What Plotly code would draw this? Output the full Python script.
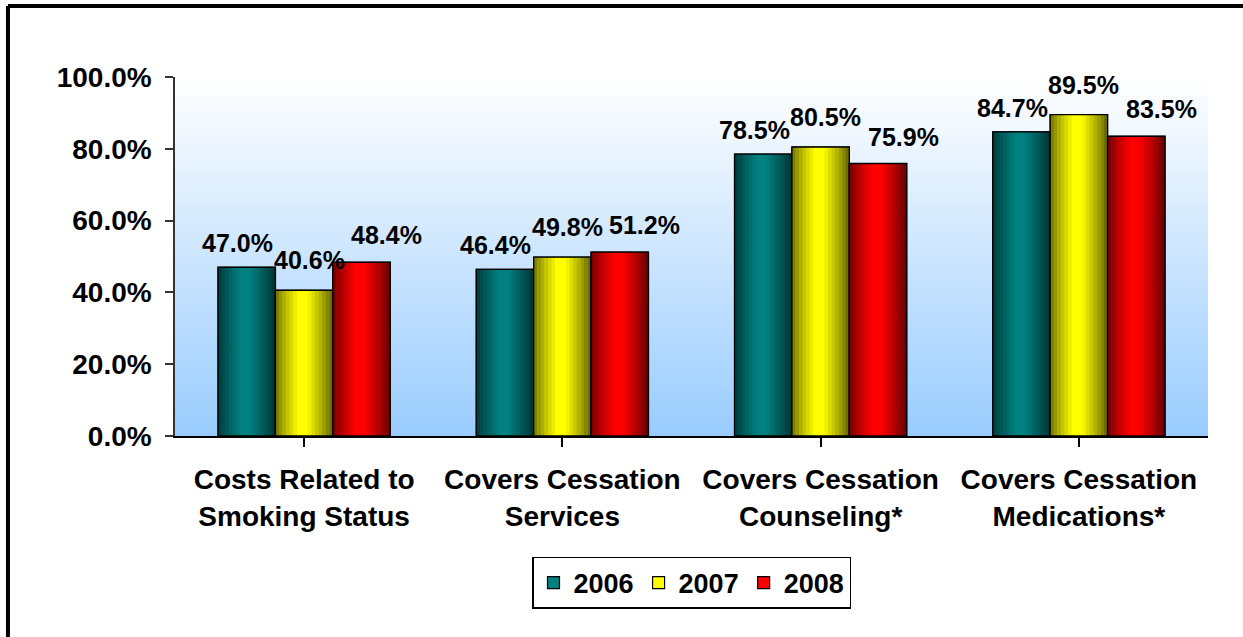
import plotly.graph_objects as go

# ---- data ----
categories = ["Costs Related to<br>Smoking Status", "Covers Cessation<br>Services",
              "Covers Cessation<br>Counseling*", "Covers Cessation<br>Medications*"]
years = ["2006", "2007", "2008"]
v2006 = [47.0, 46.4, 78.5, 84.7]
v2007 = [40.6, 49.8, 80.5, 89.5]
v2008 = [48.4, 51.2, 75.9, 83.5]
y_ticks = [0, 20, 40, 60, 80, 100]
y_tick_text = ["0.0%", "20.0%", "40.0%", "60.0%", "80.0%", "100.0%"]

series = [v2006, v2007, v2008]
base_colors = [(0, 128, 128), (255, 255, 0), (255, 0, 0)]
label_xshift = [-9, 5, 25]
label_yshift = [8, 14, 11]

FONT = "Liberation Sans, Arial, sans-serif"
BAR_W = 0.2222
OFFSETS = [-0.3333, -0.1111, 0.1111]
N_STRIPS = 16

# cylinder-like shading profile across a bar
prof = [(0.0, 0.45), (0.2, 0.75), (0.4, 1.0), (0.55, 1.0), (0.8, 0.68), (1.0, 0.38)]


def shade(t):
    for (t0, s0), (t1, s1) in zip(prof[:-1], prof[1:]):
        if t0 <= t <= t1:
            return s0 + (s1 - s0) * (t - t0) / (t1 - t0)
    return prof[-1][1]


def rgb(c, s=1.0):
    return "rgb(%d,%d,%d)" % tuple(int(round(v * s)) for v in c)


fig = go.Figure()
idx = list(range(len(categories)))

for si, vals in enumerate(series):
    # legend-carrying base bar (hidden under gradient strips)
    fig.add_trace(go.Bar(
        x=idx, y=vals, name=years[si], width=BAR_W, offset=OFFSETS[si],
        marker=dict(color=rgb(base_colors[si]), line=dict(color="black", width=1.2)),
        showlegend=True, hoverinfo="skip"))
    sw = BAR_W / N_STRIPS
    for k in range(N_STRIPS):
        t = (k + 0.5) / N_STRIPS
        fig.add_trace(go.Bar(
            x=idx, y=vals, width=sw * 1.08, offset=OFFSETS[si] + k * sw,
            marker=dict(color=rgb(base_colors[si], shade(t)), line=dict(width=0)),
            showlegend=False, hoverinfo="skip"))
    # outline on top
    fig.add_trace(go.Bar(
        x=idx, y=vals, width=BAR_W, offset=OFFSETS[si],
        marker=dict(color="rgba(0,0,0,0)", line=dict(color="black", width=1.3)),
        showlegend=False, hoverinfo="skip"))

# data labels
annotations = []
for si, vals in enumerate(series):
    for ci, v in enumerate(vals):
        annotations.append(dict(
            x=ci + OFFSETS[si] + BAR_W / 2, y=v, xref="x", yref="y",
            text="%.1f%%" % v, showarrow=False, yanchor="bottom",
            xshift=label_xshift[si], yshift=label_yshift[si],
            font=dict(family=FONT, size=25, color="black", weight="bold")))

# gradient background of plot area
shapes = []
n_bands = 60
top_c = (255, 255, 255)
bot_c = (153, 204, 255)
for b in range(n_bands):
    f = (b + 0.5) / n_bands
    c = tuple(top_c[i] + (bot_c[i] - top_c[i]) * f for i in range(3))
    shapes.append(dict(type="rect", xref="paper", yref="paper", x0=0, x1=1,
                       y0=1 - (b + 1) / n_bands - 0.002, y1=1 - b / n_bands,
                       fillcolor=rgb(c), line=dict(width=0), layer="below"))

# outer frame (top and left edges visible)
shapes.append(dict(type="line", xref="paper", yref="paper", x0=-0.1617, x1=1.1,
                   y0=1.1978, y1=1.1978, line=dict(color="black", width=4)))
shapes.append(dict(type="line", xref="paper", yref="paper", x0=-0.1617, x1=-0.1617,
                   y0=1.1978, y1=-0.6, line=dict(color="black", width=4)))

fig.update_layout(
    width=1243, height=637,
    margin=dict(l=175, r=35, t=77, b=201),
    paper_bgcolor="white", plot_bgcolor="rgba(0,0,0,0)",
    barmode="overlay",
    font=dict(family=FONT, color="black"),
    shapes=shapes, annotations=annotations,
    showlegend=True,
    legend=dict(orientation="h", x=0.5, xanchor="center", y=-0.337, yanchor="top",
                bordercolor="black", borderwidth=1.5, bgcolor="white",
                font=dict(family=FONT, size=27, color="black", weight="bold"),
                itemclick=False),
    xaxis=dict(tickmode="array", tickvals=idx, ticktext=categories,
               range=[-0.5, len(categories) - 0.5],
               showline=True, linecolor="black", linewidth=1.5,
               ticks="outside", ticklen=9, tickcolor="black", tickwidth=1.5,
               tickson="boundaries", showgrid=False, zeroline=False,
               ticklabelstandoff=9,
               tickfont=dict(family=FONT, size=28, color="black", weight="bold")),
    yaxis=dict(range=[0, 100], tickmode="array", tickvals=y_ticks, ticktext=y_tick_text,
               showline=True, linecolor="#333333", linewidth=1.5,
               ticks="outside", ticklen=8, tickcolor="#333333", tickwidth=1.5,
               showgrid=False, zeroline=False, ticklabelstandoff=8,
               tickfont=dict(family=FONT, size=28, color="black", weight="bold")),
)

fig.write_html("out.html", config={"displayModeBar": False},
               post_script="document.body.style.margin='0px';")
